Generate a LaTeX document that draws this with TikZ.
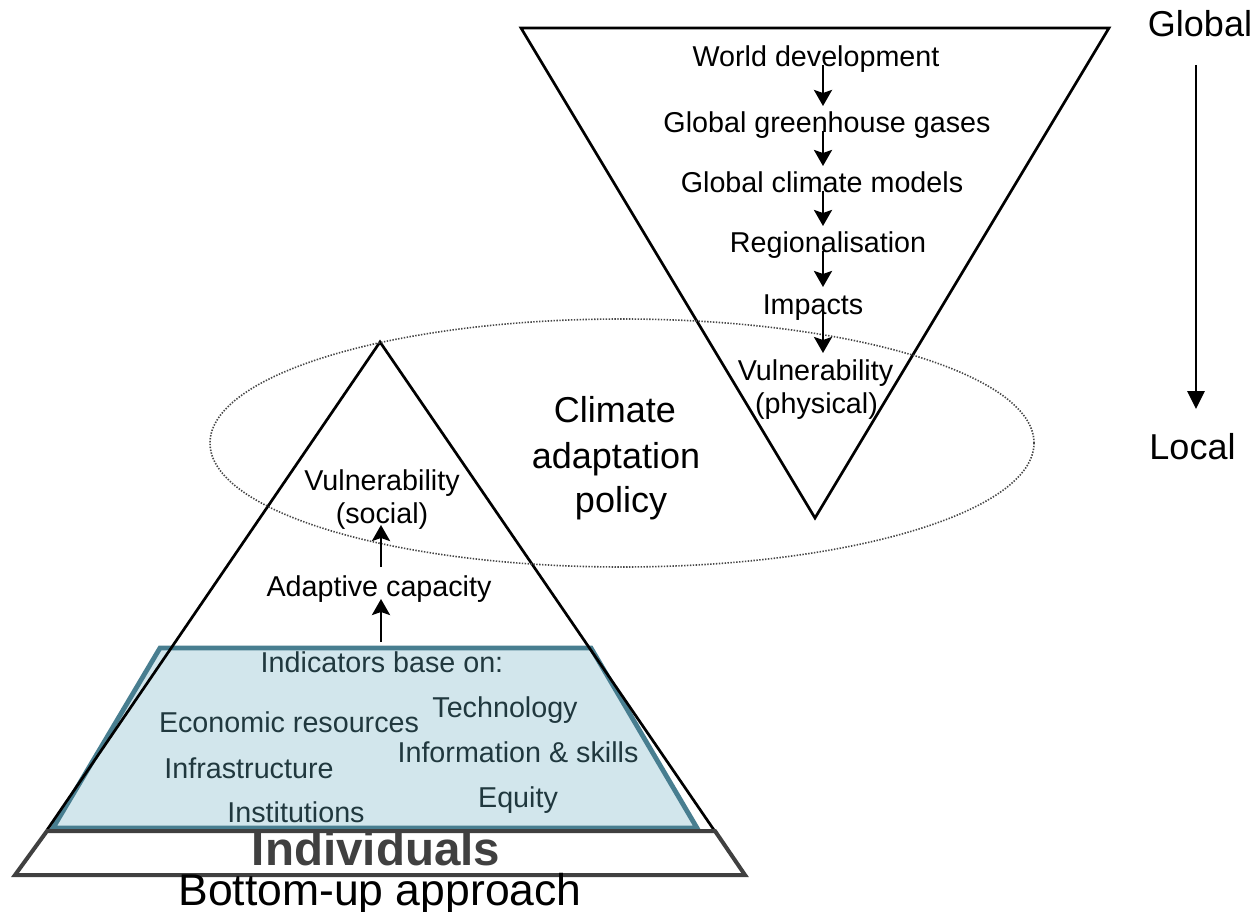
\documentclass[tikz,border=0pt]{standalone}
\usepackage{fontspec}
\setmainfont{Liberation Sans}
\usetikzlibrary{arrows.meta,calc}
\definecolor{bluefill}{RGB}{210,230,236}
\definecolor{blueedge}{RGB}{72,126,144}
\definecolor{bluetext}{RGB}{32,56,62}
\definecolor{indgray}{RGB}{64,64,64}
\definecolor{dotgray}{RGB}{70,70,70}
\begin{document}
\begin{tikzpicture}[x=1pt,y=-1pt,
  lbl/.style={font=\fontsize{28.7}{34}\selectfont, inner sep=0pt, anchor=base},
  big/.style={font=\fontsize{36}{43}\selectfont, inner sep=0pt, anchor=base},
  indtxt/.style={lbl, text=bluetext},
  arr/.style={line width=2.8pt, -{Stealth[length=16pt,width=18pt,inset=3pt]}},
  edgeline/.style={line width=2.7pt, line join=miter},
]
\useasboundingbox (0,0) rectangle (1259,912);
\fill[white] (0,0) rectangle (1259,912);

% coordinates for arrow columns
\coordinate (rx) at (823,0);
\coordinate (lx) at (381,0);
\coordinate (gx) at (1196,0);

% blue indicator trapezoid
\draw[line width=4.8pt, draw=blueedge, fill=bluefill, line join=miter]
  (160,648) -- (591,648) -- (697,828) -- (53,828) -- cycle;
% upright triangle
\draw[edgeline] (47,830) -- (380,342) -- (714,830);
% individuals trapezoid
\draw[line width=4pt, draw=indgray, line join=miter]
  (47,831) -- (715,831) -- (745,875) -- (15,875) -- cycle;
% inverted triangle
\draw[edgeline] (521,28) -- (1109,28) -- (815,518) -- cycle;
% dotted ellipse
\draw[dotgray, line width=1.6pt, dash pattern=on 1.4pt off 1.5pt]
  (622,443) ellipse [x radius=412pt, y radius=124pt];

% top-down chain
\node[lbl] (wd)  at (816,67)  {World development};
\node[lbl] (ggg) at (827,133) {Global greenhouse gases};
\node[lbl] (gcm) at (822,193) {Global climate models};
\node[lbl] (reg) at (828,253) {Regionalisation};
\node[lbl] (imp) at (813,314) {Impacts};
\node[lbl] (vp1) at (815.5,380) {Vulnerability};
\node[lbl] (vp2) at (816.5,413) {(physical)};

\draw[arr] ($(wd.base -| rx)+(0,-2)$)  -- ($(ggg.base -| rx)+(0,-27)$);
\draw[arr] ($(ggg.base -| rx)+(0,-2)$) -- ($(gcm.base -| rx)+(0,-27)$);
\draw[arr] ($(gcm.base -| rx)+(0,-2)$) -- ($(reg.base -| rx)+(0,-27)$);
\draw[arr] ($(reg.base -| rx)+(0,-2)$) -- ($(imp.base -| rx)+(0,-27)$);
\draw[arr] ($(imp.base -| rx)+(0,-2)$) -- ($(vp1.base -| rx)+(0,-27)$);

% climate adaptation policy
\node[big] (cl1) at (615,422) {Climate};
\node[big] (cl2) at (616,468) {adaptation};
\node[big] (cl3) at (621,512) {policy};

% bottom-up chain
\node[lbl] (vs1) at (382,490) {Vulnerability};
\node[lbl] (vs2) at (382,523) {(social)};
\node[lbl] (ac)  at (379,596) {Adaptive capacity};
\node[indtxt] (indic) at (382,672) {Indicators base on:};
\node[indtxt] (tech)  at (505,717) {Technology};
\node[indtxt] (econ)  at (289,732) {Economic resources};
\node[indtxt] (info)  at (518,762) {Information \& skills};
\node[indtxt] (infra) at (249,778) {Infrastructure};
\node[indtxt] (eq)    at (518,807) {Equity};
\node[indtxt] (inst)  at (296,822) {Institutions};

\draw[arr] ($(ac.base -| lx)+(0,-29)$) -- ($(vs2.base -| lx)+(0,2)$);
\draw[arr] ($(indic.base -| lx)+(0,-30)$) -- ($(ac.base -| lx)+(0,3)$);

\node[inner sep=0pt, anchor=base, text=indgray, font=\fontsize{47.5}{56}\selectfont\bfseries] (indiv) at (376,865) {Individuals};
\node[inner sep=0pt, anchor=base, font=\fontsize{44.5}{52}\selectfont] (bu) at (380,905) {Bottom-up approach};

% global -> local
\node[big] (glob) at (1200,37) {Global};
\node[big] (loc)  at (1192.5,459) {Local};
\draw[line width=2.8pt, -{Triangle[length=18pt,width=17pt]}]
  ($(glob.base -| gx)+(0,28)$) -- ($(loc.base -| gx)+(0,-50)$);
\end{tikzpicture}
\end{document}
